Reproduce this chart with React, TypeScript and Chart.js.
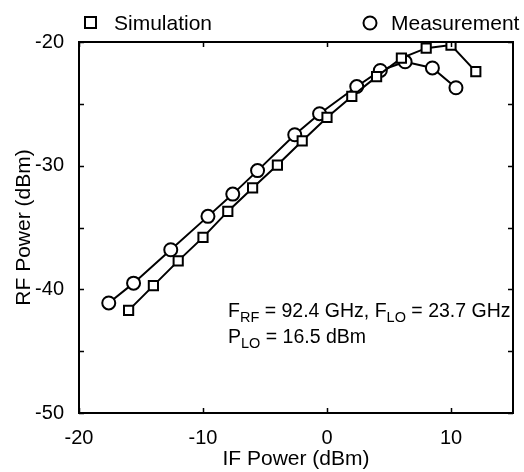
import React, { useEffect, useRef } from "react";
import { Chart, registerables } from "chart.js";

Chart.register(...registerables);

const simX = [-16, -14, -12, -10, -8, -6, -4, -2, 0, 2, 4, 6, 8, 10, 12];
const simY = [-41.7, -39.7, -37.7, -35.8, -33.7, -31.8, -29.95, -28.0, -26.1, -24.4, -22.8, -21.3, -20.5, -20.25, -22.4];

const measX = [-17.6, -15.6, -12.6, -9.6, -7.6, -5.6, -2.6, -0.6, 2.4, 4.3, 6.3, 8.5, 10.4];
const measY = [-41.1, -39.5, -36.8, -34.1, -32.3, -30.4, -27.5, -25.8, -23.6, -22.3, -21.6, -22.1, -23.7];

const seriesNames = ["Simulation", "Measurement"];
const xLabel = "IF Power (dBm)";
const yLabel = "RF Power (dBm)";
const xMin = -20, xMax = 15, yMin = -50, yMax = -20;

const FONT = '"Liberation Sans", Arial, Helvetica, sans-serif';

const boxTicksPlugin = {
  id: "boxTicks",
  afterDraw(chart: any) {
    const { ctx, chartArea: a, scales } = chart;
    ctx.save();
    ctx.strokeStyle = "#000";
    ctx.lineWidth = 1.5;
    const tl = 5;
    ctx.beginPath();
    for (const t of scales.x.ticks) {
      if (Math.abs(t.value % 10) > 1e-9) continue;
      const px = Math.round(scales.x.getPixelForValue(t.value)) + 0.5;
      ctx.moveTo(px, a.bottom);
      ctx.lineTo(px, a.bottom - tl);
      ctx.moveTo(px, a.top);
      ctx.lineTo(px, a.top + tl);
    }
    for (const t of scales.y.ticks) {
      const py = Math.round(scales.y.getPixelForValue(t.value)) + 0.5;
      ctx.moveTo(a.left, py);
      ctx.lineTo(a.left + tl, py);
      ctx.moveTo(a.right, py);
      ctx.lineTo(a.right - tl, py);
    }
    ctx.stroke();
    ctx.lineWidth = 2;
    ctx.strokeRect(a.left, a.top, a.right - a.left, a.bottom - a.top);

    // legend
    ctx.lineWidth = 2;
    ctx.fillStyle = "#fff";
    ctx.fillRect(85, 17, 11, 11);
    ctx.strokeRect(85, 17, 11, 11);
    ctx.beginPath();
    ctx.arc(370, 23, 6.5, 0, Math.PI * 2);
    ctx.fill();
    ctx.stroke();
    ctx.fillStyle = "#000";
    ctx.font = `21px ${FONT}`;
    ctx.textBaseline = "alphabetic";
    ctx.textAlign = "left";
    ctx.fillText(seriesNames[0], 114, 30);
    ctx.fillText(seriesNames[1], 391, 30);

    // annotation with subscripts
    const drawRich = (parts: [string, boolean][], x: number, y: number) => {
      let cx = x;
      for (const [txt, sub] of parts) {
        ctx.font = sub ? `14.5px ${FONT}` : `19.5px ${FONT}`;
        ctx.fillText(txt, cx, sub ? y + 5 : y);
        cx += ctx.measureText(txt).width;
      }
    };
    drawRich([["F", false], ["RF", true], [" = 92.4 GHz, F", false], ["LO", true], [" = 23.7 GHz", false]], 228, 317);
    drawRich([["P", false], ["LO", true], [" = 16.5 dBm", false]], 228, 343);
    ctx.restore();
  },
};

export default function App() {
  const ref = useRef<HTMLCanvasElement>(null);
  useEffect(() => {
    const canvas = ref.current!;
    const chart = new Chart(canvas, {
      type: "scatter",
      data: {
        datasets: [
          {
            label: seriesNames[0],
            data: simX.map((x, i) => ({ x, y: simY[i] })),
            showLine: true,
            borderColor: "#000",
            borderWidth: 2,
            pointStyle: "rect",
            pointRadius: 6.5,
            pointBorderWidth: 2,
            pointBackgroundColor: "#fff",
            pointBorderColor: "#000",
          },
          {
            label: seriesNames[1],
            data: measX.map((x, i) => ({ x, y: measY[i] })),
            showLine: true,
            borderColor: "#000",
            borderWidth: 2,
            pointStyle: "circle",
            pointRadius: 6.5,
            pointBorderWidth: 2,
            pointBackgroundColor: "#fff",
            pointBorderColor: "#000",
          },
        ],
      },
      options: {
        responsive: false,
        animation: false,
        layout: { padding: { top: 42, right: 11, left: 0, bottom: 0 } },
        plugins: { legend: { display: false }, tooltip: { enabled: false } },
        scales: {
          x: {
            type: "linear",
            min: xMin,
            max: xMax,
            grid: { display: false },
            border: { display: false },
            ticks: {
              stepSize: 10,
              color: "#000",
              font: { family: FONT, size: 20 },
              padding: 5,
              maxRotation: 0,
              callback: (v: any) => (Math.abs(v % 10) < 1e-9 ? String(v) : ""),
            },
            title: {
              display: true,
              text: xLabel,
              color: "#000",
              font: { family: FONT, size: 21 },
              padding: { top: 0, bottom: 0 },
            },
            afterFit: (s: any) => { s.height = 59; },
          },
          y: {
            type: "linear",
            min: yMin,
            max: yMax,
            grid: { display: false },
            border: { display: false },
            ticks: {
              stepSize: 5,
              color: "#000",
              font: { family: FONT, size: 20 },
              padding: 7,
              callback: (v: any) => (Math.abs(v % 10) < 1e-9 ? String(v) : ""),
            },
            title: {
              display: true,
              text: yLabel,
              color: "#000",
              font: { family: FONT, size: 21 },
              padding: { top: 12, bottom: 0 },
            },
            afterFit: (s: any) => { s.width = 79; },
          },
        },
      },
      plugins: [boxTicksPlugin],
    });
    return () => chart.destroy();
  }, []);
  return (
    <div style={{ position: "absolute", left: 0, top: 0, width: 524, height: 472, background: "#fff" }}>
      <canvas ref={ref} width={524} height={472} />
    </div>
  );
}
